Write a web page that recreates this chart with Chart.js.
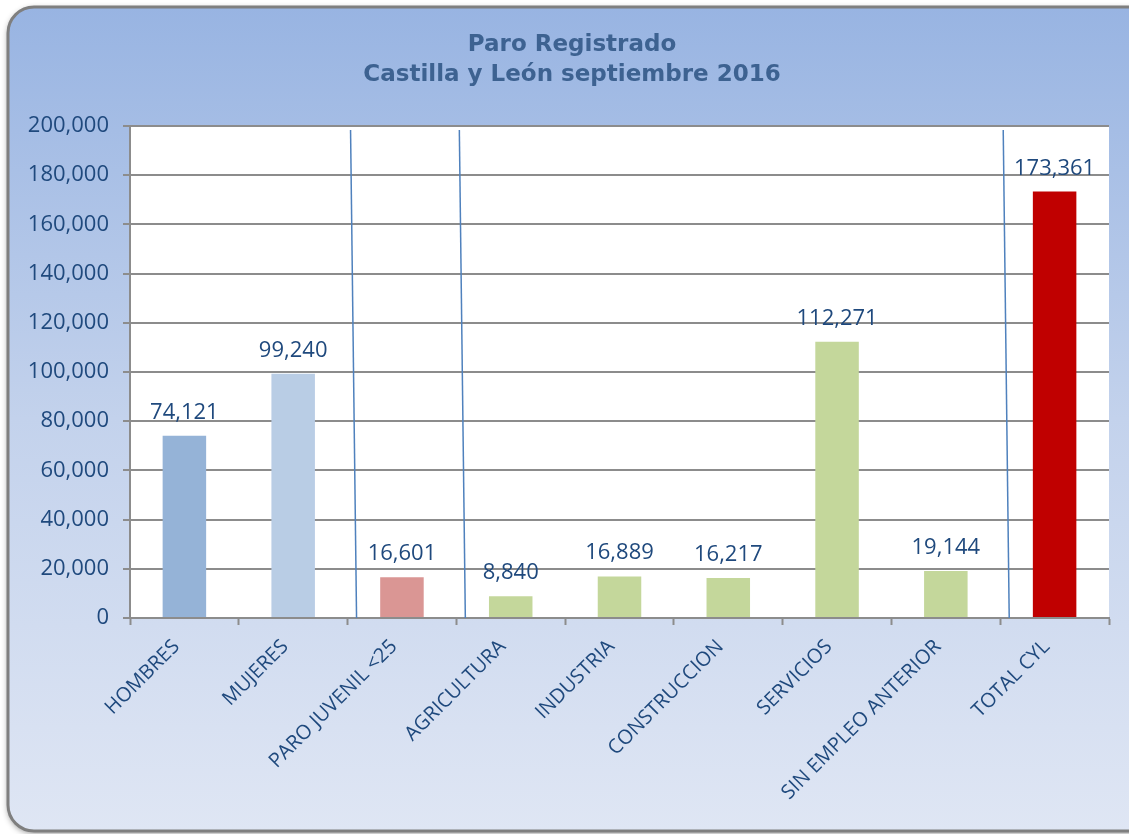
<!DOCTYPE html>
<html>
<head>
<meta charset="utf-8">
<script src="https://cdn.jsdelivr.net/npm/chart.js@4.4.1/dist/chart.umd.min.js"></script>
<style>
  html, body { margin: 0; padding: 0; background: #ffffff; }
  #wrap { width: 1129px; height: 834px; }
</style>
</head>
<body>
<div id="wrap"><canvas id="chart" width="1129" height="834"></canvas></div>
<script>
const categories = [
    "HOMBRES", "MUJERES", "PARO JUVENIL <25", "AGRICULTURA", "INDUSTRIA",
    "CONSTRUCCION", "SERVICIOS", "SIN EMPLEO ANTERIOR", "TOTAL CYL"
];
const values = [74121, 99240, 16601, 8840, 16889, 16217, 112271, 19144, 173361];
const barColors = [
    "#95b3d7", "#b9cde5", "#da9694", "#c4d79b", "#c4d79b",
    "#c4d79b", "#c4d79b", "#c4d79b", "#c00000"
];
const titleLines = ["Paro Registrado", "Castilla y León septiembre 2016"];
const yMax = 200000;
const yStep = 20000;
// separators drawn between these category pairs (index of the right-hand one)
const separatorsAt = [2, 3, 8];

const textColor = "#1f497d";
const labelFont = "'Open Sans', sans-serif";

const fmt = (v) => v.toLocaleString("en-US");

// rounded panel with blue gradient behind everything, plus the title
const panelPlugin = {
    id: "panel",
    beforeDraw(chart) {
        const { ctx, width, height } = chart;
        ctx.save();
        const x = 8, y = 7, w = width + 20, h = height - 10, r = 26;
        ctx.beginPath();
        ctx.moveTo(x + r, y);
        ctx.lineTo(x + w - r, y);
        ctx.arcTo(x + w, y, x + w, y + r, r);
        ctx.lineTo(x + w, y + h - r);
        ctx.arcTo(x + w, y + h, x + w - r, y + h, r);
        ctx.lineTo(x + r, y + h);
        ctx.arcTo(x, y + h, x, y + h - r, r);
        ctx.lineTo(x, y + r);
        ctx.arcTo(x, y, x + r, y, r);
        ctx.closePath();
        const g = ctx.createLinearGradient(0, y, 0, y + h);
        g.addColorStop(0, "#98b4e2");
        g.addColorStop(0.5, "#c3d2ec");
        g.addColorStop(1, "#dfe6f4");
        ctx.fillStyle = g;
        ctx.shadowColor = "rgba(0,0,0,0.45)";
        ctx.shadowBlur = 6;
        ctx.shadowOffsetX = 0;
        ctx.shadowOffsetY = 2;
        ctx.fill();
        ctx.shadowColor = "transparent";
        ctx.lineWidth = 3;
        ctx.strokeStyle = "#7f7f7f";
        ctx.stroke();

        // white plot area
        const a = chart.chartArea;
        ctx.fillStyle = "#ffffff";
        ctx.fillRect(a.left, a.top, a.right - a.left, a.bottom - a.top);

        // title
        ctx.font = "bold 23px 'DejaVu Sans', sans-serif";
        ctx.fillStyle = "#3d6291";
        ctx.textAlign = "center";
        ctx.textBaseline = "middle";
        titleLines.forEach((t, i) => ctx.fillText(t, 572, 45 + i * 30));
        ctx.restore();
    }
};

// value labels above bars + the hand-drawn blue separators
const overlayPlugin = {
    id: "overlay",
    afterDatasetsDraw(chart) {
        const { ctx } = chart;
        const meta = chart.getDatasetMeta(0);
        ctx.save();
        ctx.font = "22px " + labelFont;
        ctx.fillStyle = textColor;
        ctx.textAlign = "center";
        ctx.textBaseline = "alphabetic";
        meta.data.forEach((bar, i) => {
            ctx.fillText(fmt(values[i]), bar.x, bar.y - 17);
        });

        const xs = chart.scales.x;
        const a = chart.chartArea;
        ctx.strokeStyle = "#4f81bd";
        ctx.lineWidth = 1.5;
        separatorsAt.forEach((i) => {
            const bx = xs.getPixelForValue(i - 0.5);
            ctx.beginPath();
            ctx.moveTo(bx + 3, a.top + 4);
            ctx.lineTo(bx + 9, a.bottom);
            ctx.stroke();
        });
        ctx.restore();
    }
};

new Chart(document.getElementById("chart"), {
    type: "bar",
    data: {
        labels: categories,
        datasets: [{
            data: values,
            backgroundColor: barColors,
            borderWidth: 0,
            barPercentage: 0.4,
            categoryPercentage: 1.0
        }]
    },
    plugins: [panelPlugin, overlayPlugin],
    options: {
        responsive: false,
        animation: false,
        devicePixelRatio: 1,
        layout: { padding: { left: 0, right: 20, top: 126, bottom: 0 } },
        plugins: {
            legend: { display: false },
            tooltip: { enabled: false },
            title: { display: false }
        },
        scales: {
            x: {
                grid: {
                    display: true,
                    drawOnChartArea: false,
                    drawTicks: true,
                    tickLength: 7,
                    tickWidth: 2,
                    tickColor: "#8c8c8c",
                    offset: true
                },
                border: { color: "#8c8c8c", width: 2 },
                ticks: {
                    color: textColor,
                    font: { family: labelFont, size: 20 },
                    maxRotation: 45,
                    minRotation: 45,
                    padding: 10,
                    labelOffset: -8,
                    autoSkip: false
                },
                afterFit(scale) { scale.height = 216; }
            },
            y: {
                min: 0,
                max: yMax,
                grid: {
                    color: "#8c8c8c",
                    lineWidth: 2,
                    tickLength: 7,
                    tickColor: "#8c8c8c"
                },
                border: { color: "#8c8c8c", width: 2 },
                ticks: {
                    stepSize: yStep,
                    color: textColor,
                    font: { family: labelFont, size: 22 },
                    padding: 14,
                    callback: (v) => fmt(v)
                },
                afterFit(scale) { scale.width = 130; }
            }
        }
    }
});
</script>
</body>
</html>
